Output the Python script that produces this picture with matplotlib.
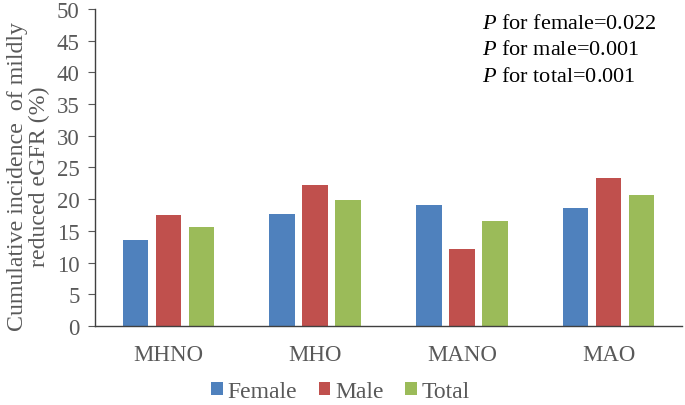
import numpy as np
from matplotlib import pyplot as plt

plt.rcParams['font.family'] = ['Liberation Serif', 'DejaVu Serif']
plt.rcParams['mathtext.fontset'] = 'custom'
plt.rcParams['mathtext.rm'] = 'Liberation Serif'
plt.rcParams['mathtext.it'] = 'Liberation Serif:italic'

categories = ["MHNO", "MHO", "MANO", "MAO"]
female = [13.6, 17.6, 19.0, 18.6]
male = [17.5, 22.3, 12.2, 23.3]
total = [15.6, 19.9, 16.6, 20.7]
p_lines = ["$\\it{P}$ for female=0.022", "$\\it{P}$ for male=0.001", "$\\it{P}$ for total=0.001"]

fig = plt.figure(figsize=(6.85, 4.06), dpi=100)
ax = fig.add_axes([0.1387, 0.1946, 0.857, 0.781])

x = np.arange(len(categories))
w = 0.174
step = 0.225
ax.bar(x - step, female, w, color='#4F81BD', label='Female')
ax.bar(x, male, w, color='#C0504D', label='Male')
ax.bar(x + step, total, w, color='#9BBB59', label='Total')

ax.set_xlim(-0.5, 3.5)
ax.set_ylim(0, 50)
ax.set_yticks(range(0, 51, 5))
ax.set_xticks(x)
ax.set_xticklabels(categories)
ax.tick_params(axis='x', length=0, pad=13, labelsize=16.5, colors='#595959')
ax.tick_params(axis='y', length=5, direction='out', labelsize=16.5, colors='#595959', pad=6)
for s in ['top', 'right']:
    ax.spines[s].set_visible(False)
for s in ['left', 'bottom']:
    ax.spines[s].set_color('#404040')
    ax.spines[s].set_linewidth(1.0)

ax.set_ylabel("Cumulative incidence  of mildly\nreduced eGFR (%)", fontsize=17.2, color='#595959',
              linespacing=1.05)
ax.yaxis.set_label_coords(-0.076, 0.475)

for i, t in enumerate(p_lines):
    ax.text(0.659, 0.985 - i * 0.084, t, transform=ax.transAxes, fontsize=16, va='top', color='black')

fig.legend(loc='lower center', bbox_to_anchor=(0.497, -0.045), ncol=3, frameon=False, fontsize=17,
           handlelength=0.5, handleheight=0.5, handletextpad=0.2, columnspacing=0.9,
           labelcolor='#595959')

plt.savefig('out.png', dpi=100)
